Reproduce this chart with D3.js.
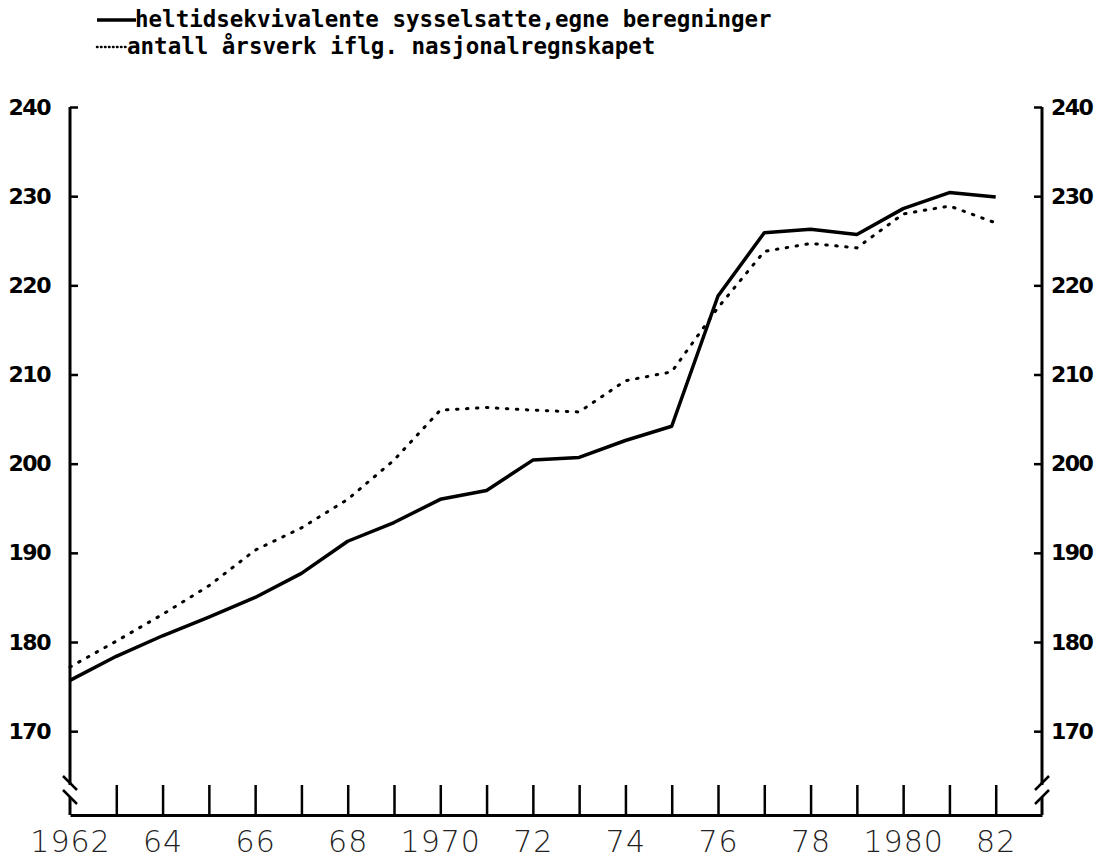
<!DOCTYPE html>
<html>
<head>
<meta charset="utf-8">
<script src="https://cdn.jsdelivr.net/npm/d3@7"></script>
<style>
  body { margin: 0; background: #fff; }
  .tick line { stroke: #000; }
</style>
</head>
<body>
<div id="chart"></div>
<script>
// data (index 1962..1982)
var years = [1962, 1963, 1964, 1965, 1966, 1967, 1968, 1969, 1970, 1971, 1972,
             1973, 1974, 1975, 1976, 1977, 1978, 1979, 1980, 1981, 1982];
var heltid = [175.7, 178.4, 180.7, 182.8, 185.0, 187.7, 191.3, 193.4, 196.0, 197.0, 200.4,
              200.7, 202.6, 204.2, 218.8, 225.9, 226.3, 225.7, 228.6, 230.4, 229.9];
var arsverk = [177.2, 180.1, 183.1, 186.3, 190.3, 192.8, 196.0, 200.4, 206.0, 206.3, 206.0,
               205.8, 209.3, 210.3, 217.5, 223.8, 224.7, 224.2, 228.0, 228.9, 227.0];

var yTicks = [170, 180, 190, 200, 210, 220, 230, 240];
var xTicks = [1963, 1964, 1965, 1966, 1967, 1968, 1969, 1970, 1971, 1972,
              1973, 1974, 1975, 1976, 1977, 1978, 1979, 1980, 1981, 1982];
var xLabelYears = [1962, 1964, 1966, 1968, 1970, 1972, 1974, 1976, 1978, 1980, 1982];
var xLabels = ["1962", "64", "66", "68", "1970", "72", "74", "76", "78", "1980", "82"];

var legendLabels = ["heltidsekvivalente sysselsatte,egne beregninger",
                    "antall årsverk iflg. nasjonalregnskapet"];

// set margins
var svgWidth = 1100;
var svgHeight = 861;

var margin = {
    top: 107,
    right: 58,
    bottom: 46,
    left: 70
};

var width = svgWidth - margin.left - margin.right;
var height = svgHeight - margin.top - margin.bottom;

var svg = d3.select("#chart")
    .append("svg")
    .attr("width", svgWidth)
    .attr("height", svgHeight);

var chartGroup = svg.append("g")
    .attr("transform", `translate(${margin.left}, ${margin.top})`);

// scales
var xScale = d3.scaleLinear().domain([1962, 1983]).range([0, width]);
var yScale = d3.scaleLinear().domain([160.6, 240]).range([height, 0]);

var labelFont = "'DejaVu Sans', sans-serif";

// left axis, ticks pointing inward
var leftAxis = d3.axisLeft(yScale)
    .tickValues(yTicks)
    .tickSize(-8)
    .tickSizeOuter(0)
    .tickPadding(20)
    .tickFormat(d3.format("d"));

var gLeft = chartGroup.append("g").call(leftAxis);
gLeft.select(".domain").remove();
gLeft.selectAll(".tick line").attr("stroke-width", 2.5);
gLeft.selectAll("text")
    .attr("font-family", labelFont)
    .attr("font-weight", "bold")
    .attr("font-size", "22px")
    .attr("letter-spacing", "-1.5px")
    .attr("fill", "#000");

// right axis
var rightAxis = d3.axisRight(yScale)
    .tickValues(yTicks)
    .tickSize(-8)
    .tickSizeOuter(0)
    .tickPadding(9)
    .tickFormat(d3.format("d"));

var gRight = chartGroup.append("g")
    .attr("transform", `translate(${width}, 0)`)
    .call(rightAxis);
gRight.select(".domain").remove();
gRight.selectAll(".tick line").attr("stroke-width", 2.5);
gRight.selectAll("text")
    .attr("font-family", labelFont)
    .attr("font-weight", "bold")
    .attr("font-size", "22px")
    .attr("letter-spacing", "-1.5px")
    .attr("fill", "#000");

// vertical axis lines with a break near the bottom
var breakTop = height - 30;
var breakBottom = height - 18;
[0, width].forEach(function(x) {
    chartGroup.append("line")
        .attr("x1", x).attr("x2", x)
        .attr("y1", 0).attr("y2", breakTop)
        .attr("stroke", "#000").attr("stroke-width", 3);
    chartGroup.append("line")
        .attr("x1", x).attr("x2", x)
        .attr("y1", breakBottom).attr("y2", height)
        .attr("stroke", "#000").attr("stroke-width", 3);
});

// break marks: "\\" on the left, "//" on the right
[breakTop - 4, breakBottom - 2].forEach(function(y) {
    chartGroup.append("line")
        .attr("x1", -7).attr("y1", y - 5)
        .attr("x2", 7).attr("y2", y + 9)
        .attr("stroke", "#000").attr("stroke-width", 2.5);
    chartGroup.append("line")
        .attr("x1", width - 7).attr("y1", y + 9)
        .attr("x2", width + 7).attr("y2", y - 5)
        .attr("stroke", "#000").attr("stroke-width", 2.5);
});

// bottom axis with tall ticks pointing up
var bottomAxis = d3.axisBottom(xScale)
    .tickValues(xTicks)
    .tickSize(-30)
    .tickSizeOuter(0)
    .tickFormat("");

var gBottom = chartGroup.append("g")
    .attr("transform", `translate(0, ${height})`)
    .call(bottomAxis);
gBottom.select(".domain")
    .attr("stroke", "#000")
    .attr("stroke-width", 3);
gBottom.selectAll(".tick line").attr("stroke-width", 2.5);

// year labels
var labelAxis = d3.axisBottom(xScale)
    .tickValues(xLabelYears)
    .tickSize(0)
    .tickPadding(16)
    .tickFormat(function(d, i) { return xLabels[i]; });

var gLabels = chartGroup.append("g")
    .attr("transform", `translate(0, ${height})`)
    .call(labelAxis);
gLabels.select(".domain").remove();
gLabels.selectAll("text")
    .attr("font-family", labelFont)
    .attr("font-weight", "200")
    .attr("font-size", "30px")
    .attr("letter-spacing", "1px")
    .attr("fill", "#222");

// lines
var valueLine = d3.line()
    .x(function(d, i) { return xScale(years[i]); })
    .y(function(d) { return yScale(d); });

chartGroup.append("path")
    .datum(arsverk)
    .attr("d", valueLine)
    .attr("fill", "none")
    .attr("stroke", "#000")
    .attr("stroke-width", 3)
    .attr("stroke-linecap", "round")
    .attr("stroke-dasharray", "1.5,8.5");

chartGroup.append("path")
    .datum(heltid)
    .attr("d", valueLine)
    .attr("fill", "none")
    .attr("stroke", "#000")
    .attr("stroke-width", 3.5)
    .attr("stroke-linejoin", "round");

// legend
var legend = svg.append("g");

legend.append("line")
    .attr("x1", 97).attr("x2", 136)
    .attr("y1", 20).attr("y2", 20)
    .attr("stroke", "#000")
    .attr("stroke-width", 3.5);

legend.append("line")
    .attr("x1", 97).attr("x2", 126)
    .attr("y1", 47).attr("y2", 47)
    .attr("stroke", "#000")
    .attr("stroke-width", 2.5)
    .attr("stroke-linecap", "round")
    .attr("stroke-dasharray", "0.5,3.5");

legend.selectAll("text")
    .data(legendLabels)
    .enter()
    .append("text")
    .attr("x", function(d, i) { return i == 0 ? 135 : 127; })
    .attr("y", function(d, i) { return 20 + i * 27; })
    .attr("dy", "0.32em")
    .attr("font-family", "'DejaVu Sans Mono', monospace")
    .attr("font-weight", "bold")
    .attr("font-size", "22.5px")
    .attr("fill", "#000")
    .text(function(d) { return d; });
</script>
</body>
</html>
